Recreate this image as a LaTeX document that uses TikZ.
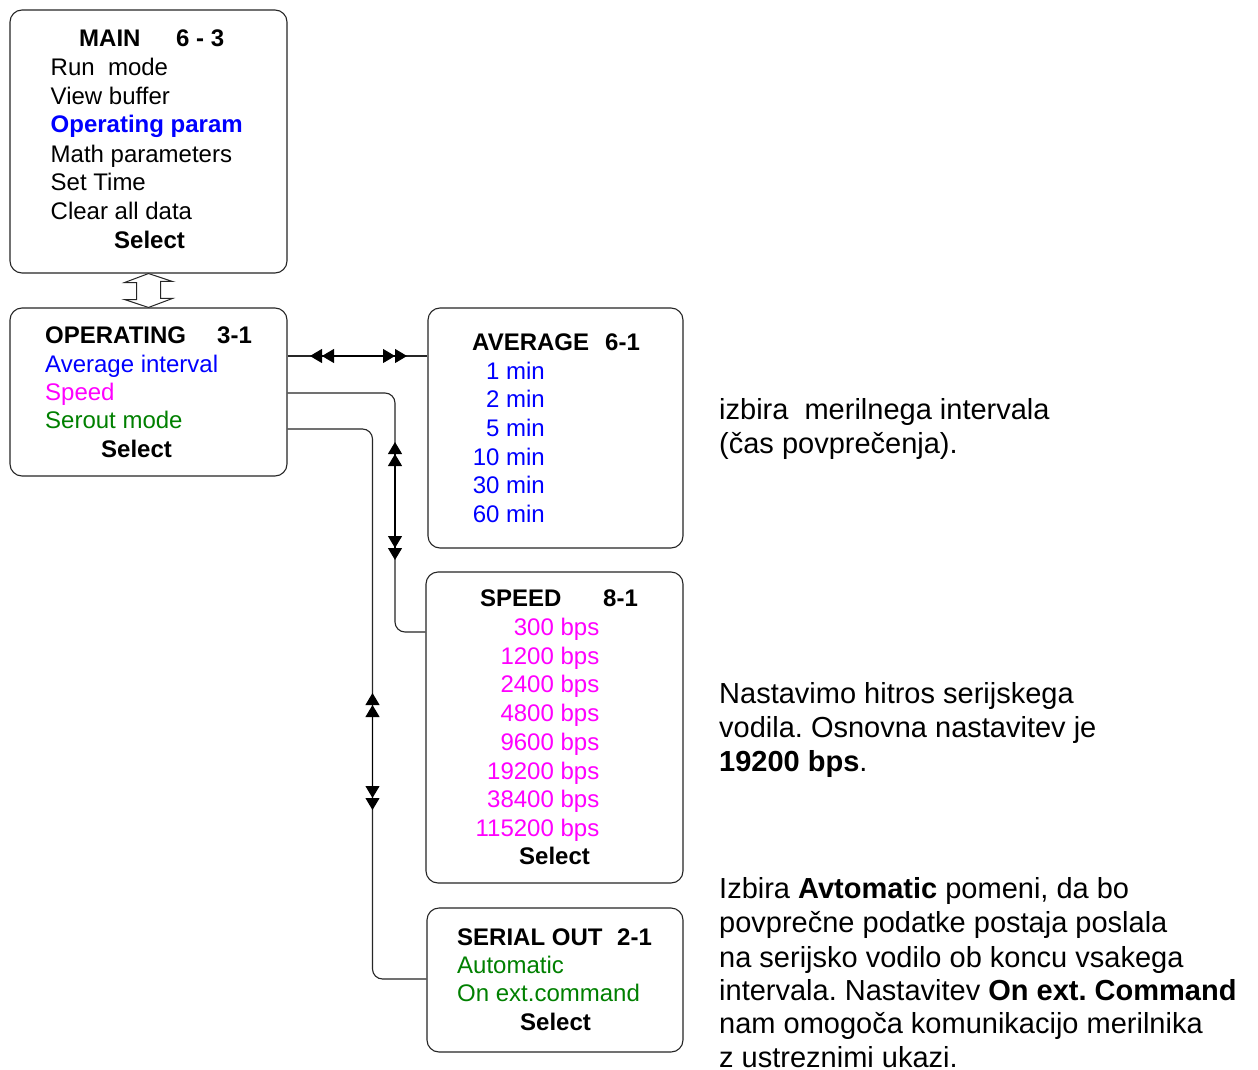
\documentclass[tikz,border=0pt]{standalone}
\usepackage{fontspec}
\setmainfont{Liberation Sans}
\usetikzlibrary{arrows.meta}
\definecolor{tblue}{RGB}{0,0,255}
\definecolor{tmag}{RGB}{255,0,255}
\definecolor{tgreen}{RGB}{0,128,0}
\frenchspacing
\begin{document}
\begin{tikzpicture}[x=1pt,y=-1pt,
  box/.style={draw=black!85, line width=1.1pt, rounded corners=12pt, inner sep=0pt},
  lt/.style={anchor=base west, inner sep=0pt, font=\fontsize{24}{28.7}\selectfont},
  rt/.style={anchor=base east, inner sep=0pt, font=\fontsize{24}{28.7}\selectfont},
  bt/.style={anchor=base west, inner sep=0pt, font=\fontsize{24}{28.7}\selectfont\bfseries},
  note/.style={anchor=base west, inner sep=0pt, font=\fontsize{29}{34.3}\selectfont},
  conn/.style={draw=black!85, line width=1.1pt, rounded corners=10pt},
  dtips/.style={draw=black, line width=1.1pt,
    {Triangle[length=12pt,width=14pt]Triangle[length=12pt,width=14pt]}-{Triangle[length=12pt,width=14pt]Triangle[length=12pt,width=14pt]}},
  hollow/.style={draw=black!85, line width=1pt, fill=white, line join=miter}
]
\useasboundingbox (0,0) rectangle (1258,1070);
\fill[white] (0,0) rectangle (1258,1070);

% boxes
\node[box, minimum width=277pt, minimum height=263pt] (main) at (148.5,141.5) {};
\node[box, minimum width=277pt, minimum height=168pt] (opera) at (148.5,392) {};
\node[box, minimum width=255pt, minimum height=240pt] (avg) at (555.5,428) {};
\node[box, minimum width=257pt, minimum height=311pt] (speed) at (554.5,727.5) {};
\node[box, minimum width=256pt, minimum height=144pt] (serial) at (555,980) {};

% hollow double arrow MAIN <-> OPERATING
\draw[hollow] (main.south) -- ++(-24,9) -- ++(12,0) -- ++(0,17) -- ++(-12,0)
  -- (opera.north) -- ++(24,-9) -- ++(-12,0) -- ++(0,-17) -- ++(12,0) -- cycle;

% connectors
\draw[conn] (opera.east |- 0,356) -- (avg.west |- 0,356);
\coordinate (a1) at (310,356);
\coordinate (a2) at (407,356);
\draw[dtips] (a1) -- (a2);

\coordinate (c2) at (395,632);
\draw[conn] (opera.east |- 0,393) -| (c2) -- (speed.west |- c2);
\coordinate (b1) at (395,442);
\coordinate (b2) at (395,560);
\draw[dtips] (b1) -- (b2);

\coordinate (c3) at (372.5,979);
\draw[conn] (opera.east |- 0,429) -| (c3) -- (serial.west |- c3);
\coordinate (d1) at (372.5,693);
\coordinate (d2) at (372.5,810);
\draw[dtips] (d1) -- (d2);

% MAIN texts
\node[bt] (m0) at (79,47) {MAIN};
\node[bt] (m0b) at (176,47) {6 - 3};
\node[lt] (m1) at (50.5,76) {Run\ \ mode};
\node[lt] (m2) at (50.5,104.5) {View buffer};
\node[bt, text=tblue] (m3) at (50.5,133) {Operating param};
\node[lt] (m4) at (50.5,162) {Math parameters};
\node[lt] (m5) at (50.5,190.5) {Set Time};
\node[lt] (m6) at (50.5,219) {Clear all data};
\node[bt] (m7) at (114,248) {Select};

% OPERATING texts
\node[bt] (o0) at (45,343) {OPERATING};
\node[bt] (o0b) at (217,343) {3-1};
\node[lt, text=tblue] (o1) at (45,372) {Average interval};
\node[lt, text=tmag] (o2) at (45,400) {Speed};
\node[lt, text=tgreen] (o3) at (45,428.5) {Serout mode};
\node[bt] (o4) at (101,457) {Select};

% AVERAGE texts
\node[bt] (v0) at (472,350) {AVERAGE};
\node[bt] (v0b) at (605,350) {6-1};
\node[rt, text=tblue] (v1) at (545,379) {1 min};
\node[rt, text=tblue] (v2) at (545,407.5) {2 min};
\node[rt, text=tblue] (v3) at (545,436) {5 min};
\node[rt, text=tblue] (v4) at (545,465) {10 min};
\node[rt, text=tblue] (v5) at (545,493.5) {30 min};
\node[rt, text=tblue] (v6) at (545,522) {60 min};

% SPEED texts
\node[bt] (s0) at (480,606) {SPEED};
\node[bt] (s0b) at (603,606) {8-1};
\node[rt, text=tmag] (s1) at (599.5,635) {300 bps};
\node[rt, text=tmag] (s2) at (599.5,664) {1200 bps};
\node[rt, text=tmag] (s3) at (599.5,692.5) {2400 bps};
\node[rt, text=tmag] (s4) at (599.5,721) {4800 bps};
\node[rt, text=tmag] (s5) at (599.5,750) {9600 bps};
\node[rt, text=tmag] (s6) at (599.5,779) {19200 bps};
\node[rt, text=tmag] (s7) at (599.5,807.5) {38400 bps};
\node[rt, text=tmag] (s8) at (599.5,836) {115200 bps};
\node[bt] (s9) at (519,864) {Select};

% SERIAL OUT texts
\node[bt] (e0) at (457,945) {SERIAL OUT};
\node[bt] (e0b) at (617,945) {2-1};
\node[lt, text=tgreen] (e1) at (457,973) {Automatic};
\node[lt, text=tgreen] (e2) at (457,1001.5) {On ext.command};
\node[bt] (e3) at (520,1030) {Select};

% notes
\node[note] (n1) at (719,419) {izbira\ \ merilnega intervala};
\node[note] (n2) at (719,453) {(čas povprečenja).};
\node[note] (n3) at (719,703) {Nastavimo hitros serijskega};
\node[note] (n4) at (719,737) {vodila. Osnovna nastavitev je};
\node[note] (n5) at (719,771) {\textbf{19200 bps}.};
\node[note] (n6) at (719,898) {Izbira \textbf{Avtomatic} pomeni, da bo};
\node[note] (n7) at (719,932) {povprečne podatke postaja poslala};
\node[note] (n8) at (719,967) {na serijsko vodilo ob koncu vsakega};
\node[note] (n9) at (719,1000) {intervala. Nastavitev \textbf{On ext. Command}};
\node[note] (n10) at (719,1033) {nam omogoča komunikacijo merilnika};
\node[note] (n11) at (719,1067) {z ustreznimi ukazi.};
\end{tikzpicture}
\end{document}
